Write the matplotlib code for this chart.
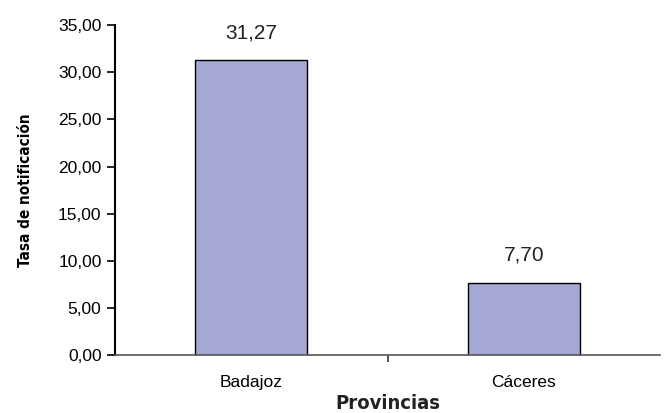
import matplotlib.pyplot as plt
import numpy as np

provincias = ['Badajoz', 'Cáceres']
tasas = [31.27, 7.70]
y_ticks = [0, 5, 10, 15, 20, 25, 30, 35]

plt.rcParams['font.family'] = 'Liberation Sans'

fig = plt.figure(figsize=(6.67, 4.13), dpi=100)
ax = fig.add_axes([0.172, 0.140, 0.818, 0.799])

ind = np.arange(len(provincias))
bars = ax.bar(ind, tasas, 0.41, color='#A6A8D4', edgecolor='black', linewidth=1.0)

# value labels above bars, comma decimal
for b, v in zip(bars, tasas):
    ax.text(b.get_x() + b.get_width() / 2., v + 1.9, ('%.2f' % v).replace('.', ','),
            ha='center', va='bottom', fontsize=15, color='#222222')

ax.set_xlim(-0.5, 1.5)
ax.set_ylim(0, 35)
ax.set_yticks(y_ticks)
ax.set_yticklabels([('%.2f' % t).replace('.', ',') for t in y_ticks], fontsize=12.5)
ax.set_xticks(ind)
ax.set_xticklabels(provincias, fontsize=12.5)
ax.set_xticks([0.5], minor=True)
ax.tick_params(axis='x', which='major', length=0, pad=14)
ax.tick_params(axis='x', which='minor', length=5, width=1.2, direction='out', color='#333333')
ax.tick_params(axis='y', length=6, width=1.2, direction='out')

ax.spines['top'].set_visible(False)
ax.spines['right'].set_visible(False)
ax.spines['left'].set_linewidth(1.5)
ax.spines['bottom'].set_linewidth(1.2)
ax.spines['bottom'].set_color('#555555')

ax.set_ylabel('Tasa de notificación', fontsize=11, fontweight='bold', family='DejaVu Sans',
              fontstretch='condensed', labelpad=18)
ax.set_xlabel('Provincias', fontsize=14.5, fontweight='bold', family='DejaVu Sans',
              fontstretch='condensed', labelpad=3, color='#222222')

plt.savefig('out.png', dpi=100)
